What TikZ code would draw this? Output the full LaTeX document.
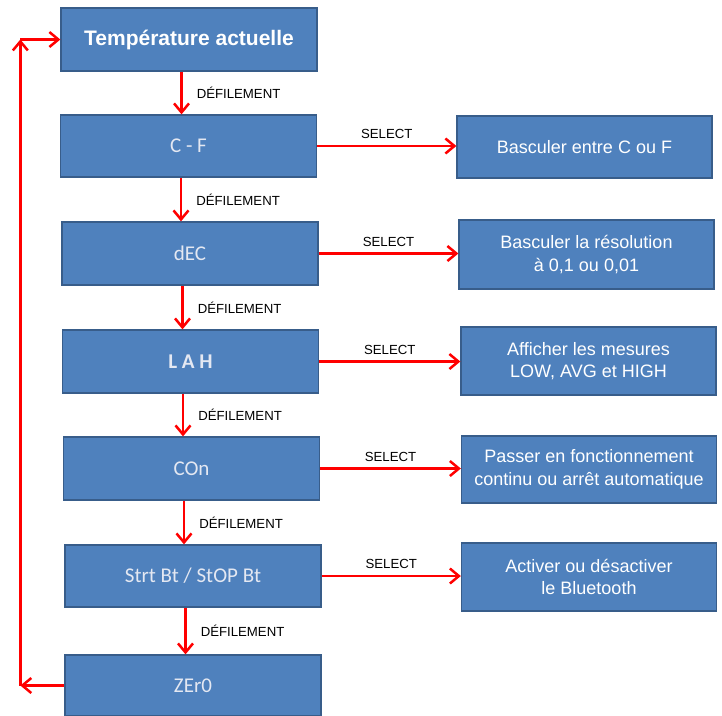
\documentclass[tikz,border=0pt]{standalone}
\usepackage{fontspec}
\setmainfont{Liberation Sans}
\newfontfamily\carlito{Carlito}
\usetikzlibrary{arrows.meta,calc}
\definecolor{boxfill}{RGB}{79,129,189}
\definecolor{boxline}{RGB}{56,93,138}
\definecolor{boxtext}{RGB}{228,232,242}
\begin{document}
\begin{tikzpicture}[x=1pt,y=-1pt,
  box/.style={draw=boxline, line width=1.3pt, fill=boxfill, text=boxtext, align=center, inner sep=0pt, minimum width=256pt},
  leftbox/.style={box, font=\carlito\fontsize{21}{24}\selectfont},
  rightbox/.style={box, text=white, font=\fontsize{18}{22.5}\selectfont, minimum width=255pt},
  arr/.style={draw=red, line width=2.5pt, -{Straight Barb[length=9pt,width=15pt]}},
  lbl/.style={font=\fontsize{13.2}{15}\selectfont, inner sep=0pt, text=black}
]
\useasboundingbox (0,0) rectangle (722,715);

% left column
\node[box, text=white, font=\bfseries\fontsize{21}{24}\selectfont, minimum height=63pt] (t1) at (189,39.5) {Température actuelle};
\node[leftbox, minimum height=62pt] (t2) at (188.5,146) {C - F};
\node[leftbox, minimum height=63pt] (t3) at (190,253.5) {dEC};
\node[leftbox, font=\carlito\bfseries\fontsize{21}{24}\selectfont, minimum height=63pt] (t4) at (190.5,361.5) {L A H};
\node[leftbox, minimum height=63pt] (t5) at (191.5,468.5) {COn};
\node[leftbox, minimum height=62pt] (t6) at (193,576) {Strt Bt / StOP Bt};
\node[leftbox, minimum height=61pt] (t7) at (193,685.5) {ZEr0};

% right column
\node[rightbox, minimum height=62pt] (r2) at (584.5,147) {Basculer entre C ou F};
\node[rightbox, minimum height=69pt] (r3) at (586.5,254.5) {Basculer la résolution\\à 0,1 ou 0,01};
\node[rightbox, minimum height=68pt] (r4) at (588.5,361) {Afficher les mesures\\LOW, AVG et HIGH};
\node[rightbox, minimum height=67pt] (r5) at (589,469.5) {Passer en fonctionnement\\continu ou arrêt automatique};
\node[rightbox, minimum height=68pt] (r6) at (589,577) {Activer ou désactiver\\le Bluetooth};

% down arrows
\foreach \a/\b in {t1/t2,t2/t3,t3/t4,t4/t5,t5/t6,t6/t7}{
  \draw[arr] ([xshift=-7.5pt]\a.south) -- ([xshift=-7.5pt]\a.south |- \b.north)
    node[lbl, midway, anchor=west, xshift=14pt] {DÉFILEMENT};
}

% select arrows
\foreach \a/\b in {t2/r2,t3/r3,t4/r4,t5/r5,t6/r6}{
  \draw[arr] (\a.east) -- (\a.east -| \b.west)
    node[lbl, midway, above=6pt] {SELECT};
}

% loop back
\path (t7.west) ++(-44,0) coordinate (bl);
\coordinate (tl) at (bl |- t1.west);
\draw[arr] (t7.west) -- (bl);
\draw[arr] (bl) -- (tl);
\draw[arr] (tl) -- (t1.west);
\end{tikzpicture}
\end{document}
